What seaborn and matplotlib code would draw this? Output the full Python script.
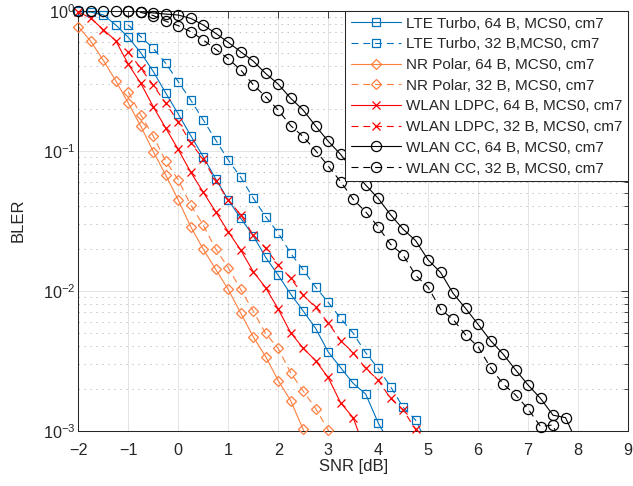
import numpy as np
import pandas as pd
import matplotlib
matplotlib.use("Agg")
import matplotlib.pyplot as plt
from matplotlib.lines import Line2D
from matplotlib.ticker import LogLocator, NullFormatter, FixedLocator
import seaborn as sns

sns.set_theme(style="white")
plt.rcParams["font.family"] = ["Liberation Sans", "DejaVu Sans"]
plt.rcParams["mathtext.default"] = "regular"
plt.rcParams["lines.scale_dashes"] = False
plt.rcParams["axes.unicode_minus"] = True

# ---------------- data (BLER) ----------------
step = 0.25
start_64 = -2.0   # 64 B curves start at -2 dB
start_32 = -1.0   # 32 B curves start at -1 dB

lte_64 = [0.991, 0.977, 0.933, 0.791, 0.646, 0.501, 0.368, 0.258, 0.183, 0.128,
          0.0906, 0.0628, 0.0445, 0.0329, 0.0247, 0.0173, 0.0129, 0.00946, 0.00716,
          0.00538, 0.00366, 0.00282, 0.00218, 0.00183, 0.00114, 0.00079]
lte_32 = [0.791, 0.652, 0.538, 0.421, 0.311, 0.230, 0.166, 0.119, 0.0859, 0.0646,
          0.0459, 0.0338, 0.0259, 0.0185, 0.0141, 0.0106, 0.00826, 0.00635, 0.00497,
          0.00361, 0.00279, 0.00206, 0.00147, 0.00119, 0.00079]
nr_64 = [0.769, 0.605, 0.442, 0.316, 0.219, 0.150, 0.0986, 0.0670, 0.0445, 0.0286,
         0.0198, 0.0142, 0.0102, 0.00692, 0.00469, 0.00338, 0.00228, 0.00164,
         0.00102, 0.00063]
nr_32 = [0.264, 0.180, 0.127, 0.0843, 0.0618, 0.0409, 0.0294, 0.0198, 0.0146, 0.0102,
         0.00716, 0.00495, 0.00387, 0.00259, 0.00192, 0.00144, 0.00101, 0.00063]
ldpc_64 = [0.984, 0.883, 0.733, 0.610, 0.415, 0.303, 0.206, 0.145, 0.102, 0.0702,
           0.0505, 0.0366, 0.0264, 0.0195, 0.0137, 0.0105, 0.00740, 0.00501, 0.00389,
           0.00316, 0.00240, 0.00158, 0.00124, 0.00071]
ldpc_32 = [0.509, 0.387, 0.294, 0.218, 0.161, 0.114, 0.0871, 0.0610, 0.0445, 0.0348,
           0.0250, 0.0201, 0.0153, 0.0123, 0.00931, 0.00760, 0.00590, 0.00440,
           0.00361, 0.00279, 0.00230, 0.00170, 0.00141, 0.00102, 0.00063]
cc_64 = [1.0, 1.0, 1.0, 1.0, 0.998, 0.984, 0.964, 0.946, 0.931, 0.881, 0.791, 0.689,
         0.594, 0.509, 0.437, 0.356, 0.299, 0.237, 0.195, 0.150, 0.117, 0.0940,
         0.0724, 0.0569, 0.0457, 0.0348, 0.0275, 0.0228, 0.0166, 0.0135, 0.00957,
         0.00748, 0.00575, 0.00440, 0.00353, 0.00272, 0.00212, 0.00170, 0.00129,
         0.00124, 0.00079]
cc_32 = [0.993, 0.973, 0.923, 0.841, 0.782, 0.708, 0.618, 0.530, 0.454, 0.377, 0.296,
         0.243, 0.195, 0.151, 0.126, 0.100, 0.0778, 0.0601, 0.0450, 0.0366, 0.0286,
         0.0214, 0.0180, 0.0129, 0.0106, 0.00736, 0.00624, 0.00483, 0.00398, 0.00282,
         0.00216, 0.00180, 0.00143, 0.00107, 0.00110, 0.00063]

labels = ["LTE Turbo, 64 B, MCS0, cm7", "LTE Turbo, 32 B,MCS0, cm7",
          "NR Polar, 64 B, MCS0, cm7", "NR Polar, 32 B, MCS0, cm7",
          "WLAN LDPC, 64 B, MCS0, cm7", "WLAN LDPC, 32 B, MCS0, cm7",
          "WLAN CC, 64 B, MCS0, cm7", "WLAN CC, 32 B, MCS0, cm7"]
values = [lte_64, lte_32, nr_64, nr_32, ldpc_64, ldpc_32, cc_64, cc_32]
starts = [start_64, start_32] * 4

xticks = list(range(-2, 10))

# ---------------- styles ----------------
BLUE, ORANGE, RED, BLACK = "#0072BD", "#FF7F3F", "#FF0000", "#000000"
colors = [BLUE, BLUE, ORANGE, ORANGE, RED, RED, BLACK, BLACK]
markers = ["s", "s", "D", "D", "x", "x", "o", "o"]
msizes = {"s": 6.0, "D": 5.3, "x": 6.2, "o": 7.3}
DASH = (0, (5, 3.5))
styles = ["-", DASH] * 4
LW = 0.8

rows = []
for lab, st, vals in zip(labels, starts, values):
    for i, v in enumerate(vals):
        rows.append({"series": lab, "snr": st + i * step, "bler": v})
df = pd.DataFrame(rows)

fig = plt.figure(figsize=(6.33, 4.86), dpi=100)
L, R, T, B = 78.3, 628.0, 10.7, 430.7
ax = fig.add_axes([L / 633, 1 - B / 486, (R - L) / 633, (B - T) / 486])
ax.set_yscale("log")

handles = []
for lab, c, m, ls in zip(labels, colors, markers, styles):
    sub = df[df["series"] == lab]
    sns.lineplot(data=sub, x="snr", y="bler", ax=ax, color=c, linestyle=ls,
                 lw=LW, estimator=None, sort=False, legend=False)
    inside = sub[sub["bler"] >= 1e-3]
    ax.plot(inside["snr"], inside["bler"], ls="none", marker=m, ms=msizes[m],
            mfc="none", mec=c, mew=0.9, clip_on=False, zorder=3)
    handles.append(Line2D([], [], color=c, ls=ls, lw=LW, marker=m, ms=msizes[m],
                          mfc="none", mec=c, mew=0.9))

ax.set_xlim(-2, 9)
ax.set_ylim(1e-3, 1)
ax.xaxis.set_major_locator(FixedLocator(xticks))
ax.yaxis.set_major_locator(LogLocator(base=10, numticks=10))
ax.yaxis.set_minor_locator(LogLocator(base=10, subs=np.arange(2, 10), numticks=10))
ax.yaxis.set_minor_formatter(NullFormatter())

AX_COL = "#262626"
ax.grid(True, which="major", color=AX_COL, alpha=0.15, lw=0.6, ls="-")
ax.grid(True, which="minor", axis="y", color=AX_COL, alpha=0.35, lw=0.6,
        ls=(0, (1, 3.3)))
ax.set_axisbelow(True)
for sp in ax.spines.values():
    sp.set_color(AX_COL)
    sp.set_linewidth(0.75)
    sp.set_visible(True)
ax.tick_params(which="both", direction="in", top=True, right=True,
               color=AX_COL, labelcolor=AX_COL, width=0.6)
ax.tick_params(which="major", length=5, labelsize=11.7)
ax.tick_params(which="minor", length=3)
ax.tick_params(axis="x", pad=8.5)
ax.tick_params(axis="y", pad=2)

ax.set_xlabel("SNR [dB]", fontsize=12, color=AX_COL)
ax.set_ylabel("BLER", fontsize=12, color=AX_COL)
ax.xaxis.set_label_coords(0.5, -0.068)
ax.yaxis.set_label_coords(-0.095, 0.5)

leg = ax.legend(handles, labels, loc="upper right", fontsize=11,
                frameon=True, fancybox=False, framealpha=1, edgecolor=AX_COL,
                borderaxespad=0, borderpad=0.38, labelspacing=0.44,
                handlelength=3.27, handletextpad=0.33, numpoints=1)
leg.get_frame().set_linewidth(0.75)
leg.set_zorder(5)

fig.savefig("out.png", dpi=100)
